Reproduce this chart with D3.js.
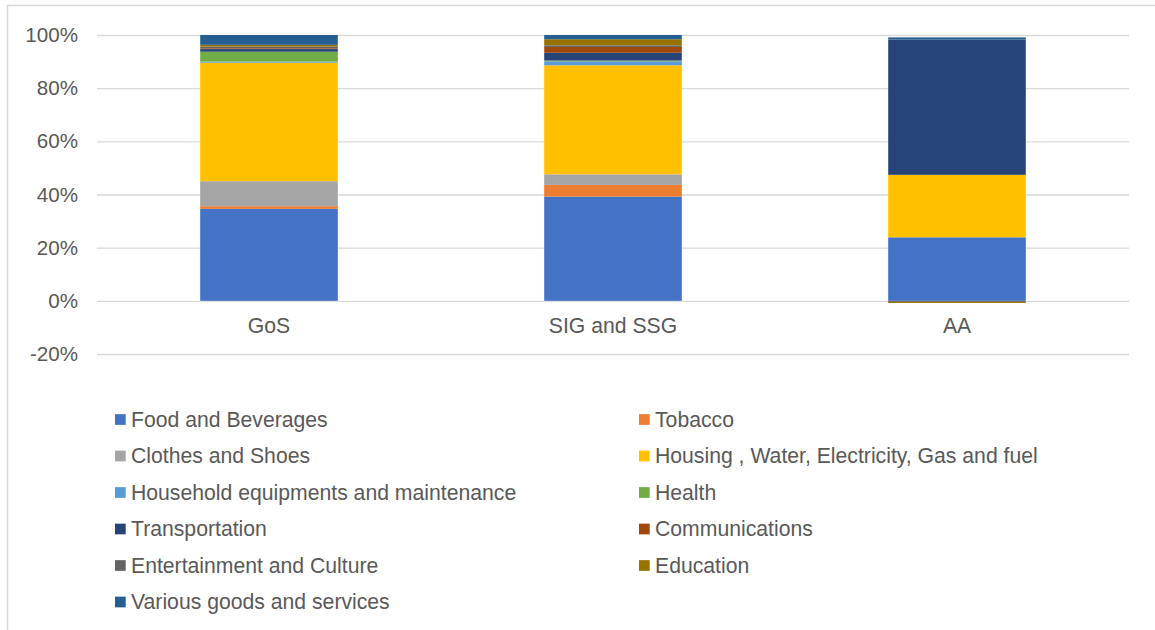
<!DOCTYPE html>
<html>
<head>
<meta charset="utf-8">
<script src="https://cdn.jsdelivr.net/npm/d3@7"></script>
<style>
  html, body { margin: 0; padding: 0; background: #fff; }
  svg { display: block; font-family: "Liberation Sans", Arial, sans-serif; }
</style>
</head>
<body>
<svg id="chart" width="1155" height="630"></svg>
<script>
// Regions shown as stacked columns
const regions = ["GoS", "SIG and SSG", "AA"];

// Expenditure categories in stacking order
const categories = [
  "Food and Beverages",
  "Tobacco",
  "Clothes and Shoes",
  "Housing , Water, Electricity, Gas and fuel",
  "Household equipments and maintenance",
  "Health",
  "Transportation",
  "Communications",
  "Entertainment and Culture",
  "Education",
  "Various goods and services"
];

const colors = [
  "#4472C4", "#ED7D31", "#A5A5A5", "#FFC000", "#5B9BD5", "#70AD47",
  "#264478", "#9E480E", "#636363", "#997300", "#255E91"
];

// Share of each category per region (%), one array per region in category order
const gosShares = [34.6, 1.0, 9.4, 44.6, 0.4, 3.7, 1.0, 0.3, 0.6, 0.7, 3.7];
const sigShares = [39.2, 4.4, 4.0, 41.0, 1.5, 0.3, 2.9, 2.2, 0.6, 2.3, 1.6];
const aaShares  = [23.9, 0.0, 0.0, 23.5, 0.0, 0.0, 50.9, 0.0, -0.4, -0.4, 0.8];

const yTicks = [-0.2, 0, 0.2, 0.4, 0.6, 0.8, 1.0];

const shares = [gosShares, sigShares, aaShares];
const rows = regions.map((r, i) => {
  const row = { region: r };
  categories.forEach((c, j) => { row[c] = shares[i][j] / 100; });
  return row;
});

const svg = d3.select("#chart");
const textColor = "#595959";
const gridColor = "#D9D9D9";
const fontSize = 21.2;

// Outer chart frame
svg.append("path")
  .attr("d", "M7.5,630 V5.5 H1155")
  .attr("fill", "none")
  .attr("stroke", gridColor)
  .attr("stroke-width", 1.5);

const x = d3.scaleBand()
  .domain(regions)
  .range([97, 1129])
  .paddingInner(0.6)
  .paddingOuter(0.3);

const y = d3.scaleLinear()
  .domain([-0.2, 1.0])
  .range([354, 35]);

// Percent labels with a plain hyphen for negatives
const pct = d => Math.round(d * 100) + "%";

// Horizontal gridlines and percentage labels
const yAxis = d3.axisLeft(y)
  .tickValues(yTicks)
  .tickFormat(pct)
  .tickSize(-(1129 - 97))
  .tickPadding(19);

const gy = svg.append("g")
  .attr("transform", "translate(97,0)")
  .call(yAxis);
gy.select(".domain").remove();
gy.selectAll(".tick line").attr("stroke", gridColor).attr("stroke-width", 1.3);
gy.selectAll(".tick text")
  .attr("fill", textColor)
  .style("font-size", "20.6px")
  .style("font-family", "'Liberation Sans', Arial, sans-serif");

// Stacked segments (negative values stack below zero)
const stack = d3.stack()
  .keys(categories)
  .offset(d3.stackOffsetDiverging);
const series = stack(rows);

const layers = svg.append("g")
  .selectAll("g")
  .data(series)
  .join("g")
  .attr("fill", (d, i) => colors[i]);

layers.selectAll("rect")
  .data(d => d)
  .join("rect")
  .attr("x", d => x(d.data.region))
  .attr("width", x.bandwidth())
  .attr("y", d => y(Math.max(d[0], d[1])))
  .attr("height", d => Math.abs(y(d[0]) - y(d[1])));

// Category axis labels
const xAxis = d3.axisBottom(x).tickSize(0).tickPadding(17);
const gx = svg.append("g")
  .attr("transform", `translate(0,${y(0)})`)
  .call(xAxis);
gx.select(".domain").remove();
gx.selectAll(".tick text")
  .attr("fill", textColor)
  .style("font-size", fontSize + "px")
  .style("font-family", "'Liberation Sans', Arial, sans-serif");

// Legend in two columns, row by row
const legendCols = [115, 639];
const legendTop = 419.5;
const legendStep = 36.5;
const sw = 10.7;

const legend = svg.append("g")
  .selectAll("g")
  .data(categories)
  .join("g")
  .attr("transform", (d, i) =>
    `translate(${legendCols[i % 2]},${legendTop + Math.floor(i / 2) * legendStep})`);

legend.append("rect")
  .attr("x", 0)
  .attr("y", -sw / 2)
  .attr("width", sw)
  .attr("height", sw)
  .attr("fill", (d, i) => colors[i]);

legend.append("text")
  .attr("x", 16)
  .attr("y", 0)
  .attr("dy", "0.35em")
  .attr("fill", textColor)
  .style("font-size", fontSize + "px")
  .text(d => d);
</script>
</body>
</html>
